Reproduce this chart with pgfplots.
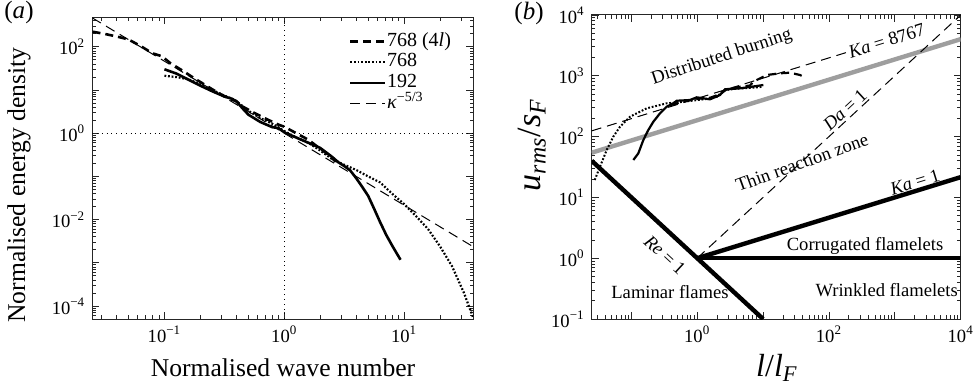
\documentclass[border=0pt]{standalone}
\usepackage{fontspec}
\setmainfont{Liberation Serif}
\usepackage{pgfplots}
\pgfplotsset{compat=1.18}
\begin{document}
\begin{tikzpicture}
\useasboundingbox (0,0) rectangle (490pt,193.5pt);
\pgfplotsset{
  every tick label/.append style={font=\fontsize{9.3}{10}\selectfont},
  major tick length=3.5pt, minor tick length=1.8pt,
  axis line style={line width=0.5pt, black!85},
  every tick/.style={line width=0.4pt, black!85},
}
% ---------------- panel (a)
\begin{axis}[xmode=log, ymode=log, scale only axis,
  width=190.5pt, height=151pt, at={(46.15pt,34pt)}, anchor=south west,
  xmin=0.025, xmax=37.8, ymin=5e-5, ymax=490,
  xtick={0.1,1,10},
  xticklabels={10\textsuperscript{−1},10\textsuperscript{0},10\textsuperscript{1}},
  minor xtick={0.03,0.04,0.05,0.06,0.07,0.08,0.09,0.2,0.3,0.4,0.5,0.6,0.7,0.8,0.9,2,3,4,5,6,7,8,9,20,30},
  ytick={1e-4,1e-3,1e-2,1e-1,1,10,100},
  yticklabels={10\textsuperscript{−4},,10\textsuperscript{−2},,10\textsuperscript{0},,10\textsuperscript{2}},
  minor ytick={6e-5,7e-5,8e-5,9e-5,2e-4,3e-4,4e-4,5e-4,6e-4,7e-4,8e-4,9e-4,2e-3,3e-3,4e-3,5e-3,6e-3,7e-3,8e-3,9e-3,0.02,0.03,0.04,0.05,0.06,0.07,0.08,0.09,0.2,0.3,0.4,0.5,0.6,0.7,0.8,0.9,2,3,4,5,6,7,8,9,20,30,40,50,60,70,80,90,200,300,400},
  legend style={draw=none, fill=none, at={(0.673,0.955)}, anchor=north west,
    font=\fontsize{10}{10}\selectfont, inner sep=0pt, row sep=0pt,
    nodes={inner sep=0.6pt, text height=7pt, text depth=2.2pt}},
  legend cell align=left,
]
\addplot[black, dotted, line width=0.4pt, forget plot] coordinates {(1,5e-5) (1,490)};
\addplot[black, dotted, line width=0.4pt, forget plot] coordinates {(0.025,1) (37.8,1)};
\addplot[black, line width=1.3pt, dash pattern=on 4pt off 2.5pt] coordinates {
(0.02512,223.9) (0.03162,199.5) (0.03981,173.8) (0.05012,147.9) (0.06310,104.7)
(0.07943,70.8) (0.09550,60.26) (0.1122,41.69) (0.1413,28.18) (0.1778,18.62)
(0.2239,12.59) (0.2818,8.511) (0.3548,6.166) (0.3981,5.495) (0.4467,4.169)
(0.5623,2.951) (0.7079,2.138) (0.8913,1.585) (1,1.413) (1.259,1.0)
(1.585,0.7079) (1.995,0.4365) (2.291,0.3311) (2.692,0.2188)};
\addlegendentry{768 (4\textit{l})}
\addplot[black, line width=1.1pt, dash pattern=on 0.9pt off 0.9pt] coordinates {
(0.1,21.38) (0.1259,19.95) (0.1585,17.78) (0.1995,13.49) (0.2512,10)
(0.3162,7.413) (0.3802,6.026) (0.4169,5.012) (0.5012,3.311) (0.6310,2.239)
(0.7943,1.660) (1,1.122) (1.259,0.7943) (1.585,0.6026) (1.995,0.3981)
(2.512,0.2512) (3.162,0.1862) (3.981,0.1413) (5.012,0.1) (6.310,0.07244)
(7.943,0.03981) (10,0.02291) (12.59,0.01202) (15.85,0.006026) (19.95,0.002399)
(25.12,0.0008318) (31.62,0.0001995) (37.81,0.00005248)};
\addlegendentry{768}
\addplot[black, line width=1.3pt] coordinates {
(0.1,30.20) (0.1259,23.99) (0.1585,17.38) (0.1995,12.59) (0.2512,9.333)
(0.3162,7.079) (0.3631,6.310) (0.3981,5.495) (0.4467,3.802) (0.5012,2.692)
(0.6310,1.820) (0.7943,1.380) (0.8913,1.318) (1,1.047) (1.259,0.7943)
(1.585,0.6026) (1.995,0.4571) (2.512,0.2818) (2.818,0.2138) (3.162,0.1738)
(3.548,0.1380) (3.981,0.09120) (4.467,0.05754) (5.012,0.03548) (5.623,0.01778)
(6.310,0.008710) (7.079,0.004467) (7.943,0.002512) (9.333,0.001175)};
\addlegendentry{192}
\addplot[black, line width=0.5pt, dash pattern=on 5pt off 3pt] coordinates {
(0.025,467.7) (37.8,0.00235)};
\addlegendentry{\textit{κ}\textsuperscript{−5/3}}
\end{axis}
% ---------------- panel (b)
\begin{axis}[xmode=log, ymode=log, scale only axis,
  width=184.5pt, height=152pt, at={(295.85pt,34pt)}, anchor=south west,
  xmin=0.025, xmax=10000, ymin=0.1, ymax=10000,
  xtick={0.1,1,10,100,1000,10000},
  xticklabels={,10\textsuperscript{0},,10\textsuperscript{2},,10\textsuperscript{4}},
  minor xtick={0.03,0.04,0.05,0.06,0.07,0.08,0.09,0.2,0.3,0.4,0.5,0.6,0.7,0.8,0.9,2,3,4,5,6,7,8,9,20,30,40,50,60,70,80,90,200,300,400,500,600,700,800,900,2000,3000,4000,5000,6000,7000,8000,9000},
  ytick={0.1,1,10,100,1000,10000},
  yticklabels={10\textsuperscript{−1},10\textsuperscript{0},10\textsuperscript{1},10\textsuperscript{2},10\textsuperscript{3},10\textsuperscript{4}},
  minor ytick={0.2,0.3,0.4,0.5,0.6,0.7,0.8,0.9,2,3,4,5,6,7,8,9,20,30,40,50,60,70,80,90,200,300,400,500,600,700,800,900,2000,3000,4000,5000,6000,7000,8000,9000},
  clip=true,
]
\addplot[black!38, line width=2.2pt] coordinates {(0.025,54.4) (10000,4007)};
\addplot[black, line width=0.5pt, dash pattern=on 5pt off 3pt] coordinates {(0.025,124.3) (190,2443)};
\addplot[black, line width=0.5pt, dash pattern=on 5pt off 3pt] coordinates {(1,1) (10000,10000)};
\addplot[black, line width=2.2pt] coordinates {(0.025,40) (10,0.1)};
\addplot[black, line width=2.2pt] coordinates {(1,1) (10000,21.544)};
\addplot[black, line width=2.2pt] coordinates {(1,1) (10000,1)};
% data
\addplot[black, line width=1.0pt, dash pattern=on 0.9pt off 0.9pt] coordinates {
(0.0278,19.32) (0.03342,31.99) (0.04227,60.26) (0.05321,100) (0.0673,145.5)
(0.0955,212.3) (0.1710,291.7) (0.3443,353.2) (0.4887,363.1) (0.9817,398.1)
(1.413,416.9) (1.995,451.9) (2.512,575.4) (3.981,616.6) (6.31,631) (10,660.7)};
\addplot[black, line width=1.1pt] coordinates {
(0.1072,41.21) (0.1276,53.09) (0.1521,87.90) (0.1811,128.5) (0.2158,175.8)
(0.2723,241.5) (0.3443,310.5) (0.4335,353.2) (0.4887,389.0) (0.778,399.9)
(0.9817,442.6) (1.563,410.2) (2.218,483.1) (2.642,599.8) (4.467,622.3)
(8.0,679.2) (10.09,706.3)};
\addplot[black, line width=1.1pt, dash pattern=on 4pt off 2.5pt] coordinates {
(0.3981,331.1) (0.631,380.2) (1,416.9) (1.585,436.5) (2.239,501.2)
(2.818,602.6) (4.467,660.7) (6.31,691.8) (7.112,799.8) (11.35,1030)
(18.07,1099) (25.64,1125) (36.39,1030) (40.83,966)};
% labels
\begin{scope}[every node/.style={font=\fontsize{9.3}{10}\selectfont}]
\node[rotate=18] at (axis cs:2.36,2013) {Distributed burning};
\node[rotate=17.1] at (axis cs:753,3777) {\textit{Ka} = 8767};
\node[rotate=42.7] at (axis cs:175,274) {\textit{Da} = 1};
\node[rotate=20] at (axis cs:39,38) {Thin reaction zone};
\node[rotate=17.1] at (axis cs:2026,17.9) {\textit{Ka} = 1};
\node[rotate=-42.7] at (axis cs:0.324,1.12) {\textit{Re} = 1};
\node at (axis cs:353,1.59) {Corrugated flamelets};
\node at (axis cs:0.386,0.278) {Laminar flames};
\node at (axis cs:753,0.3) {Wrinkled flamelets};
\end{scope}
\end{axis}
% outer labels
\node[font=\fontsize{12.8}{13}\selectfont, anchor=base] at (141.5pt,5.15pt) {Normalised wave number};
\node[font=\fontsize{12.8}{13}\selectfont, rotate=90] at (9.5pt,101pt) {Normalised energy density};
\node[font=\fontsize{16}{16}\selectfont, anchor=base] at (388.5pt,5.15pt) {\textit{l}/\textit{l}\textsubscript{\textit{F}}};
\node[font=\fontsize{17}{17}\selectfont, rotate=90] at (266pt,121pt) {\textit{u}\textsubscript{\textit{rms}}/\textit{s}\textsubscript{\textit{F}}};
\node[font=\fontsize{12.5}{13}\selectfont] at (9.5pt,187.5pt) {(\textit{a})};
\node[font=\fontsize{12.5}{13}\selectfont] at (264.5pt,186.75pt) {(\textit{b})};
\end{tikzpicture}
\end{document}
